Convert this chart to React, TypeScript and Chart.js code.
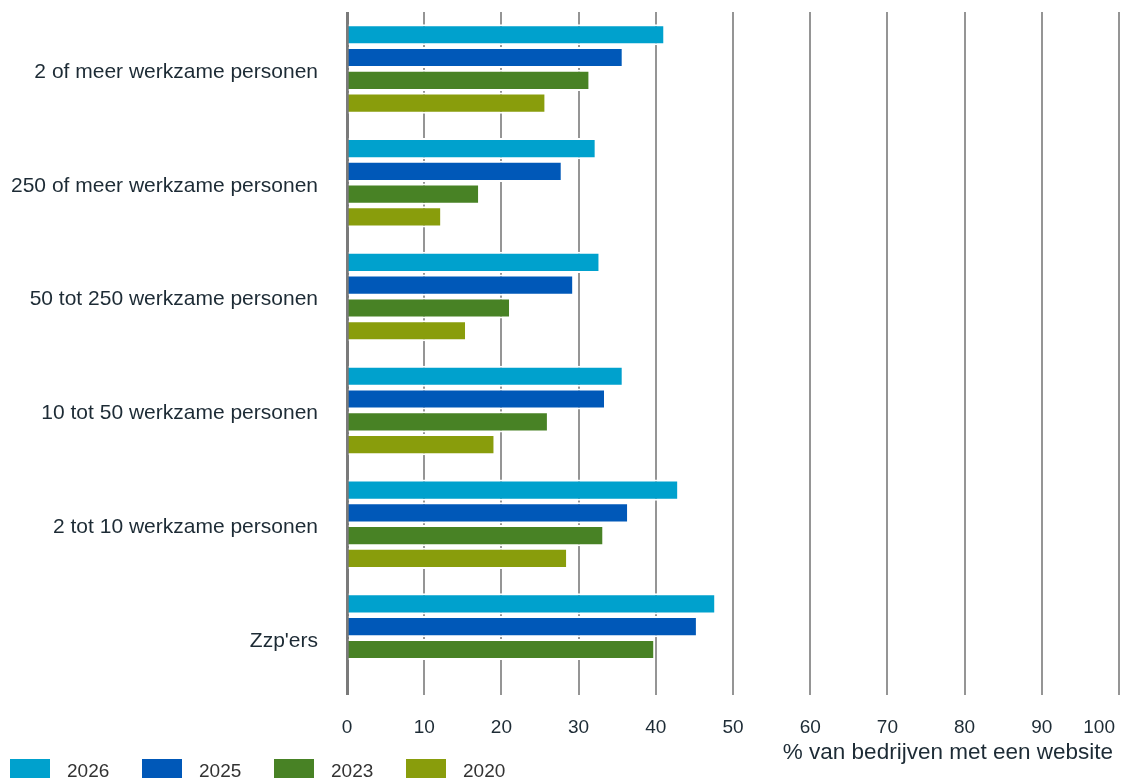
import React, { useEffect, useRef } from 'react';
import { Chart, registerables } from 'chart.js';

Chart.register(...registerables);

// Company size classes, top to bottom
const categories = [
  '2 of meer werkzame personen',
  '250 of meer werkzame personen',
  '50 tot 250 werkzame personen',
  '10 tot 50 werkzame personen',
  '2 tot 10 werkzame personen',
  "Zzp'ers",
];

const years = ['2026', '2025', '2023', '2020'];

const values2026 = [41.0, 32.1, 32.6, 35.6, 42.8, 47.6];
const values2025 = [35.6, 27.7, 29.2, 33.3, 36.3, 45.2];
const values2023 = [31.3, 17.0, 21.0, 25.9, 33.1, 39.7];
const values2020 = [25.6, 12.1, 15.3, 19.0, 28.4, null];

const seriesColors = ['#00a1cd', '#0058b8', '#488225', '#899d0c'];

const xTickValues = [0, 10, 20, 30, 40, 50, 60, 70, 80, 90, 100];
const xAxisTitle = '% van bedrijven met een website';

const TEXT = '#1d2b35';
const LEGEND_TEXT = '#333333';
const FAMILY = "'Liberation Sans', Arial, sans-serif";

// Value labels and title under the horizontal axis; the last label stays inside the canvas
const xAxisText = {
  id: 'xAxisText',
  afterDraw(chart: any) {
    const { ctx } = chart;
    const x = chart.scales.x;
    ctx.save();
    ctx.font = `19px ${FAMILY}`;
    ctx.fillStyle = TEXT;
    ctx.textBaseline = 'alphabetic';
    xTickValues.forEach((v, i) => {
      const px = x.getPixelForValue(v);
      const last = i === xTickValues.length - 1;
      ctx.textAlign = last ? 'right' : 'center';
      ctx.fillText(String(v), last ? px - 4 : px, x.top + 38);
    });
    ctx.font = `22.5px ${FAMILY}`;
    ctx.textAlign = 'right';
    ctx.fillText(xAxisTitle, x.right - 6, x.top + 64);
    ctx.restore();
  },
};

// Legend row along the bottom-left edge
const bottomLegend = {
  id: 'bottomLegend',
  afterDraw(chart: any) {
    const { ctx } = chart;
    const h = chart.height;
    ctx.save();
    ctx.font = `19px ${FAMILY}`;
    ctx.textBaseline = 'alphabetic';
    ctx.textAlign = 'left';
    chart.data.datasets.forEach((ds: any, i: number) => {
      const left = 10 + i * 132;
      ctx.fillStyle = ds.backgroundColor;
      ctx.fillRect(left, h - 19, 40, 19);
      ctx.fillStyle = LEGEND_TEXT;
      ctx.fillText(ds.label, left + 57, h - 1);
    });
    ctx.restore();
  },
};

export default function App() {
  const canvasRef = useRef<HTMLCanvasElement | null>(null);

  useEffect(() => {
    const canvas = canvasRef.current;
    if (!canvas) return;
    const seriesValues = [values2026, values2025, values2023, values2020];
    const chart = new Chart(canvas, {
      type: 'bar',
      data: {
        labels: categories,
        datasets: years.map((year, i) => ({
          label: year,
          data: seriesValues[i],
          backgroundColor: seriesColors[i],
          borderColor: '#ffffff',
          // white edges above and below each bar keep the grid from showing between bars
          borderWidth: { top: 2, bottom: 2, left: 0, right: 0 },
          borderSkipped: false,
          barPercentage: 0.93,
          categoryPercentage: 0.8,
        })),
      },
      options: {
        indexAxis: 'y',
        responsive: true,
        maintainAspectRatio: false,
        animation: false,
        layout: { padding: { top: 12, right: 4, left: 0, bottom: 0 } },
        plugins: {
          legend: { display: false },
          tooltip: { enabled: false },
        },
        scales: {
          x: {
            min: 0,
            max: 100,
            position: 'bottom',
            ticks: { display: false, stepSize: 10 },
            grid: {
              drawTicks: false,
              color: (c: any) => (c.tick && c.tick.value === 0 ? '#7a7a7a' : '#959595'),
              lineWidth: (c: any) => (c.tick && c.tick.value === 0 ? 3 : 2),
            },
            border: { display: false },
            afterFit: (s: any) => {
              s.height = 83;
              s.paddingLeft = 0;
              s.paddingRight = 0;
            },
          },
          y: {
            grid: { display: false, drawTicks: false },
            border: { display: false },
            ticks: {
              color: TEXT,
              font: { size: 21, family: FAMILY },
              padding: 29,
              labelOffset: 3,
            },
            afterFit: (s: any) => {
              s.width = 347;
              s.paddingTop = 0;
              s.paddingBottom = 0;
            },
          },
        },
      } as any,
      plugins: [xAxisText, bottomLegend],
    });
    return () => chart.destroy();
  }, []);

  return (
    <div style={{ position: 'fixed', left: 0, top: 0, width: 1123, height: 778, background: '#ffffff' }}>
      <canvas ref={canvasRef} />
    </div>
  );
}
